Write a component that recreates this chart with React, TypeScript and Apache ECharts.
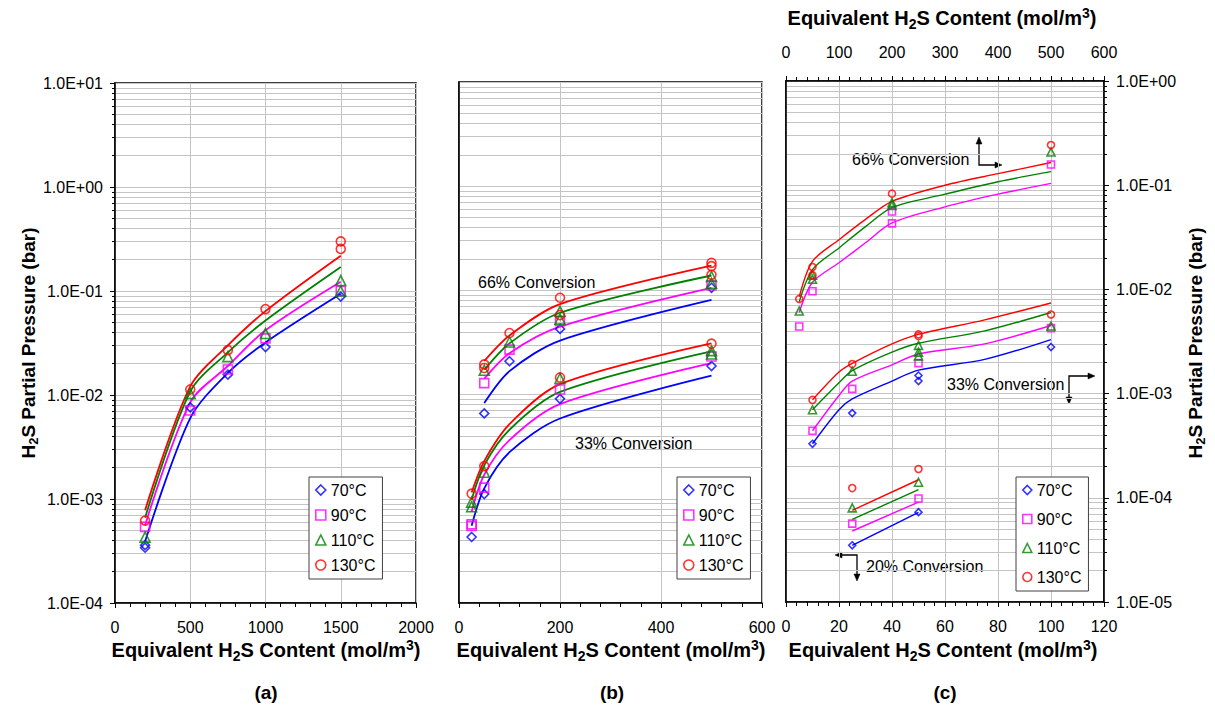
import React, { useEffect, useRef } from 'react';
import * as echarts from 'echarts';

const FONT = '"Liberation Sans", Arial, Helvetica, sans-serif';
const TEMPS = ['70°C', '90°C', '110°C', '130°C'];
const COLORS = ['#0000FF', '#FF00FF', '#008000', '#FF0000'];
const SYMBOLS = ['diamond', 'rect', 'triangle', 'circle'];

// ---------- Panel (a) ----------
const aPts70 = [[200, 0.00036], [200, 0.00034], [500, 0.0076], [750, 0.0157], [1000, 0.0289], [1500, 0.0885]];
const aPts90 = [[200, 0.00054], [500, 0.0071], [750, 0.0176], [1000, 0.035], [1500, 0.1]];
const aPts110 = [[200, 0.00043], [500, 0.0103], [750, 0.0234], [1000, 0.039], [1500, 0.126], [1500, 0.1]];
const aPts130 = [[200, 0.00062], [500, 0.0113], [750, 0.027], [1000, 0.067], [1500, 0.3], [1500, 0.254]];
const aFit70 = [[200, 0.00039], [500, 0.006], [750, 0.0163], [1000, 0.032], [1500, 0.094]];
const aFit90 = [[200, 0.00056], [500, 0.0085], [750, 0.019], [1000, 0.042], [1500, 0.123]];
const aFit110 = [[200, 0.00066], [500, 0.0108], [750, 0.0257], [1000, 0.052], [1500, 0.17]];
const aFit130 = [[200, 0.00078], [500, 0.0121], [750, 0.03], [1000, 0.064], [1500, 0.218]];

// ---------- Panel (b) 66% ----------
const b66Pts70 = [[50, 0.0066], [100, 0.0209], [200, 0.0427], [500, 0.106]];
const b66Pts90 = [[50, 0.0129], [100, 0.027], [200, 0.0505], [500, 0.112]];
const b66Pts110 = [[50, 0.0171], [100, 0.032], [200, 0.063], [200, 0.053], [500, 0.136], [500, 0.117]];
const b66Pts130 = [[50, 0.0195], [50, 0.018], [100, 0.039], [200, 0.085], [200, 0.058], [500, 0.184], [500, 0.171], [500, 0.141]];
const b66Fit70 = [[50, 0.0083], [100, 0.0168], [200, 0.033], [500, 0.081]];
const b66Fit90 = [[50, 0.0142], [100, 0.025], [200, 0.045], [500, 0.106]];
const b66Fit110 = [[50, 0.0173], [100, 0.031], [200, 0.061], [500, 0.139]];
const b66Fit130 = [[50, 0.021], [100, 0.037], [200, 0.074], [500, 0.173]];

// ---------- Panel (b) 33% ----------
const b33Pts70 = [[25, 0.00043], [50, 0.00111], [200, 0.0091], [500, 0.0188]];
const b33Pts90 = [[25, 0.00057], [25, 0.00055], [50, 0.00128], [200, 0.0112], [500, 0.0232]];
const b33Pts110 = [[25, 0.00093], [25, 0.00084], [50, 0.0018], [200, 0.0143], [500, 0.0264], [500, 0.0245]];
const b33Pts130 = [[25, 0.00112], [50, 0.00206], [200, 0.0146], [500, 0.0308]];
const b33Fit70 = [[25, 0.00055], [50, 0.00126], [100, 0.0028], [200, 0.0059], [500, 0.0152]];
const b33Fit90 = [[25, 0.00075], [50, 0.0017], [100, 0.00366], [200, 0.0081], [500, 0.02]];
const b33Fit110 = [[25, 0.00098], [50, 0.0021], [100, 0.0046], [200, 0.0106], [500, 0.026]];
const b33Fit130 = [[25, 0.00115], [50, 0.0023], [100, 0.0052], [200, 0.0126], [500, 0.031]];

// ---------- Panel (c) 66% (top axis) ----------
const c66Pts90 = [[25, 0.0044], [50, 0.0096], [200, 0.056], [200, 0.043], [500, 0.158]];
const c66Pts110 = [[25, 0.0062], [50, 0.0137], [50, 0.0125], [200, 0.068], [200, 0.064], [500, 0.208]];
const c66Pts130 = [[25, 0.0081], [50, 0.0164], [50, 0.0137], [200, 0.083], [500, 0.243]];
const c66Fit90 = [[25, 0.006], [50, 0.0117], [100, 0.018], [150, 0.028], [200, 0.0435], [300, 0.062], [400, 0.082], [500, 0.104]];
const c66Fit110 = [[25, 0.0076], [50, 0.0155], [100, 0.025], [150, 0.04], [200, 0.061], [300, 0.082], [400, 0.108], [500, 0.135]];
const c66Fit130 = [[25, 0.0085], [50, 0.0186], [100, 0.03], [150, 0.047], [200, 0.07], [300, 0.1], [400, 0.129], [500, 0.165]];

// ---------- Panel (c) 33% (bottom axis, right axis) ----------
const c33Pts70 = [[10, 0.00033], [25, 0.00065], [50, 0.00149], [50, 0.00132], [100, 0.0028]];
const c33Pts90 = [[10, 0.00044], [25, 0.00111], [50, 0.00196], [100, 0.00425]];
const c33Pts110 = [[10, 0.0007], [25, 0.00164], [50, 0.0029], [50, 0.0025], [50, 0.0023], [100, 0.00445]];
const c33Pts130 = [[10, 0.00087], [25, 0.00192], [50, 0.0037], [50, 0.00356], [100, 0.00574]];
const c33Fit70 = [[10, 0.00033], [20, 0.0007], [25, 0.00089], [40, 0.00132], [50, 0.00168], [75, 0.00213], [100, 0.0033]];
const c33Fit90 = [[10, 0.00044], [20, 0.00096], [25, 0.00132], [40, 0.00189], [50, 0.0024], [75, 0.003], [100, 0.0045]];
const c33Fit110 = [[10, 0.0007], [20, 0.00127], [25, 0.00166], [40, 0.0025], [50, 0.00304], [75, 0.004], [100, 0.006]];
const c33Fit130 = [[10, 0.00087], [20, 0.00161], [25, 0.00195], [40, 0.003], [50, 0.0037], [75, 0.0051], [100, 0.0074]];

// ---------- Panel (c) 20% (bottom axis, left axis) ----------
const c20Pts70 = [[25, 0.000035], [50, 0.0000728]];
const c20Pts90 = [[25, 0.0000565], [50, 0.0000985]];
const c20Pts110 = [[25, 0.00008], [50, 0.000141]];
const c20Pts130 = [[25, 0.000124], [50, 0.000189]];
const c20Fit70 = [[25, 0.000035], [50, 0.0000725]];
const c20Fit90 = [[25, 0.000048], [50, 0.000091]];
const c20Fit110 = [[25, 0.000062], [50, 0.00012]];
const c20Fit130 = [[25, 0.0000758], [50, 0.000149]];

const sci = (v: number) => {
  const e = Math.round(Math.log10(v));
  return '1.0E' + (e < 0 ? '-' : '+') + String(Math.abs(e)).padStart(2, '0');
};

const GRID_COLOR = '#c4c4c4';

function scatter(t: number, data: number[][], xi: number, yi: number, size: number) {
  return {
    type: 'scatter',
    name: TEMPS[t],
    xAxisIndex: xi,
    yAxisIndex: yi,
    data,
    symbol: SYMBOLS[t],
    symbolSize: SYMBOLS[t] === 'triangle' ? size + 1 : size,
    itemStyle: { color: 'rgba(0,0,0,0)', borderColor: COLORS[t], borderWidth: 1.6 },
    z: 4,
    silent: true,
  };
}

function fit(t: number, data: number[][], xi: number, yi: number, w: number) {
  return {
    type: 'line',
    name: TEMPS[t] + ' fit',
    xAxisIndex: xi,
    yAxisIndex: yi,
    data,
    smooth: 0.3,
    symbol: 'none',
    showSymbol: false,
    lineStyle: { color: COLORS[t], width: w },
    z: 3,
    silent: true,
  };
}

const axisLine = { show: true, onZero: false, lineStyle: { color: '#000', width: 1.5 } };
const tickStyle = { color: '#000', width: 1 };
const labelStyle = { fontSize: 16, fontFamily: FONT, color: '#000' };

function xValue(gi: number, max: number, interval: number, position = 'bottom', grid = true) {
  return {
    type: 'value',
    gridIndex: gi,
    position,
    min: 0,
    max,
    interval,
    axisLine,
    axisTick: { show: true, length: 5, lineStyle: tickStyle },
    minorTick: { show: true, splitNumber: 5, length: 4, lineStyle: tickStyle },
    splitLine: { show: grid, lineStyle: { color: GRID_COLOR, width: 1 } },
    axisLabel: { ...labelStyle, margin: position === 'top' ? 21 : 16, formatter: (v: number) => String(v) },
  };
}

function yLog(gi: number, min: number, max: number, position: string, labels: boolean, ticks: boolean, grid: boolean) {
  return {
    type: 'log',
    logBase: 10,
    gridIndex: gi,
    position,
    min,
    max,
    axisLine,
    axisTick: { show: ticks, length: 5, lineStyle: tickStyle },
    minorTick: { show: ticks, splitNumber: 9, length: 3, lineStyle: tickStyle },
    splitLine: { show: grid, lineStyle: { color: GRID_COLOR, width: 1 } },
    minorSplitLine: { show: grid, lineStyle: { color: GRID_COLOR, width: 1 } },
    axisLabel: { show: labels, ...labelStyle, margin: 12, formatter: sci },
  };
}

function legend(left: number, top: number, gap: number, icon: number) {
  return {
    orient: 'vertical',
    left,
    top,
    itemWidth: icon,
    itemHeight: icon,
    itemGap: gap,
    padding: [5, 7, 6, 6],
    borderColor: '#404040',
    borderWidth: 1,
    backgroundColor: '#fff',
    selectedMode: false,
    textStyle: { fontSize: 16, fontFamily: FONT, color: '#000' },
    data: TEMPS.map((n, t) => ({
      name: n,
      icon: SYMBOLS[t],
      itemStyle: { color: 'rgba(0,0,0,0)', borderColor: COLORS[t], borderWidth: 1.6 },
    })),
    z: 10,
  };
}

function makeRich(size: number) {
  const small = Math.round(size * 0.68);
  return {
    n: { fontSize: size, fontWeight: 'bold', fontFamily: FONT, lineHeight: size + 5, fill: '#000', color: '#000' },
    s: { fontSize: small, fontWeight: 'bold', fontFamily: FONT, lineHeight: small + 1, verticalAlign: 'bottom', fill: '#000', color: '#000' },
    p: { fontSize: small, fontWeight: 'bold', fontFamily: FONT, lineHeight: small + 1, verticalAlign: 'top', fill: '#000', color: '#000' },
  };
}
const X_TITLE = '{n|Equivalent H}{s|2}{n|S Content (mol/m}{p|3}{n|)}';
const Y_TITLE = '{n|H}{s|2}{n|S Partial Pressure (bar)}';

function richText(text: string, x: number, y: number, size: number, rotation = 0) {
  return {
    type: 'text',
    x,
    y,
    rotation,
    silent: true,
    style: { text, rich: makeRich(size), align: 'center', verticalAlign: 'middle', textAlign: 'center', textVerticalAlign: 'middle' },
  };
}

function plainText(text: string, x: number, y: number, size = 16, bold = false, align = 'left') {
  return {
    type: 'text',
    x,
    y,
    silent: true,
    style: {
      text,
      fill: '#000',
      font: `${bold ? 'bold ' : ''}${size}px ${FONT}`,
      align,
      verticalAlign: 'middle',
      textAlign: align,
      textVerticalAlign: 'middle',
    },
  };
}

function poly(points: number[][]) {
  return { type: 'polyline', silent: true, shape: { points }, style: { stroke: '#000', lineWidth: 1.3, fill: null } };
}
function head(points: number[][]) {
  return { type: 'polygon', silent: true, shape: { points }, style: { fill: '#000', stroke: '#000', lineWidth: 0.5 } };
}

export default function App() {
  const ref = useRef<HTMLDivElement>(null);
  useEffect(() => {
    document.body.style.margin = '0';
    if (!ref.current) return;
    const chart = echarts.init(ref.current, undefined, { renderer: 'svg' });

    const series: any[] = [];
    const aP = [aPts70, aPts90, aPts110, aPts130];
    const aF = [aFit70, aFit90, aFit110, aFit130];
    const b66P = [b66Pts70, b66Pts90, b66Pts110, b66Pts130];
    const b66F = [b66Fit70, b66Fit90, b66Fit110, b66Fit130];
    const b33P = [b33Pts70, b33Pts90, b33Pts110, b33Pts130];
    const b33F = [b33Fit70, b33Fit90, b33Fit110, b33Fit130];
    const c66P = [null, c66Pts90, c66Pts110, c66Pts130];
    const c66F = [null, c66Fit90, c66Fit110, c66Fit130];
    const c33P = [c33Pts70, c33Pts90, c33Pts110, c33Pts130];
    const c33F = [c33Fit70, c33Fit90, c33Fit110, c33Fit130];
    const c20P = [c20Pts70, c20Pts90, c20Pts110, c20Pts130];
    const c20F = [c20Fit70, c20Fit90, c20Fit110, c20Fit130];

    for (let t = 0; t < 4; t++) {
      series.push(fit(t, aF[t], 0, 0, 1.8));
      series.push(fit(t, b66F[t], 1, 1, 1.8));
      series.push(fit(t, b33F[t], 1, 1, 1.8));
      if (c66F[t]) series.push(fit(t, c66F[t] as number[][], 3, 2, 1.4));
      series.push(fit(t, c33F[t], 2, 2, 1.4));
      series.push(fit(t, c20F[t], 2, 3, 1.4));
    }
    for (let t = 0; t < 4; t++) {
      series.push(scatter(t, aP[t], 0, 0, 9));
      series.push(scatter(t, b66P[t], 1, 1, 9));
      series.push(scatter(t, b33P[t], 1, 1, 9));
      if (c66P[t]) series.push(scatter(t, c66P[t] as number[][], 3, 2, 7));
      series.push(scatter(t, c33P[t], 2, 2, 7));
      series.push(scatter(t, c20P[t], 2, 3, 7));
    }

    const gridBase = { show: true, borderColor: '#000', borderWidth: 1.5, backgroundColor: '#fff' };

    chart.setOption({
      animation: false,
      textStyle: { fontFamily: FONT },
      grid: [
        { ...gridBase, left: 115, top: 83, width: 301, height: 520 },
        { ...gridBase, left: 459, top: 82, width: 303, height: 521 },
        { ...gridBase, left: 786, top: 81, width: 318, height: 521 },
      ],
      xAxis: [
        xValue(0, 2000, 500),
        xValue(1, 600, 200),
        xValue(2, 120, 20),
        xValue(2, 600, 100, 'top', false),
      ],
      yAxis: [
        yLog(0, 1e-4, 10, 'left', true, true, true),
        yLog(1, 1e-4, 10, 'left', false, false, true),
        yLog(2, 1e-5, 1, 'right', true, true, true),
        yLog(2, 1e-5, 1, 'left', false, false, false),
      ],
      legend: [legend(309, 477, 9, 10), legend(677, 477, 9, 10), legend(1016, 477, 13, 9)],
      series,
      graphic: [
        richText(Y_TITLE, 28, 343, 19, Math.PI / 2),
        richText(Y_TITLE, 1195, 343, 19, Math.PI / 2),
        richText(X_TITLE, 266, 650, 20),
        richText(X_TITLE, 611, 650, 20),
        richText(X_TITLE, 943, 650, 20),
        richText(X_TITLE, 942, 18, 20),
        plainText('(a)', 266, 692, 19, true, 'center'),
        plainText('(b)', 612, 692, 19, true, 'center'),
        plainText('(c)', 945, 692, 19, true, 'center'),
        plainText('66% Conversion', 478, 282),
        plainText('33% Conversion', 575, 443),
        plainText('66% Conversion', 852, 159),
        plainText('33% Conversion', 947, 384),
        plainText('20% Conversion', 866, 566),
        poly([[979, 142], [979, 165], [997, 165]]),
        head([[979, 137], [976, 144], [982, 144]]),
        head([[1002, 165], [995, 162], [995, 168]]),
        poly([[1069, 400], [1069, 376], [1090, 376]]),
        head([[1069, 404], [1066, 397], [1072, 397]]),
        head([[1095, 376], [1088, 373], [1088, 379]]),
        poly([[840, 555], [857, 555], [857, 576]]),
        head([[835, 555], [842, 552], [842, 558]]),
        head([[857, 581], [854, 574], [860, 574]]),
      ],
    });
    return () => chart.dispose();
  }, []);
  return <div ref={ref} style={{ width: 1215, height: 718 }} />;
}
